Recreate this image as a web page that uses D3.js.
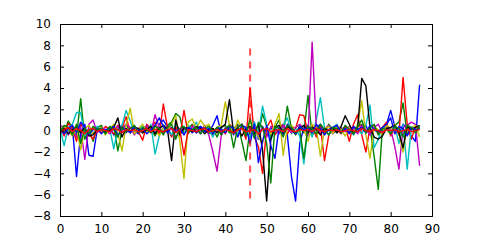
<!DOCTYPE html>
<html lang="en">
<head>
    <meta charset="UTF-8">
    <title>Series</title>
    <style>
        body, html { margin: 0; padding: 0; background: #fff; overflow: hidden; }
        text { font-family: "DejaVu Sans", sans-serif; font-size: 12px; fill: #000; }
        .line { fill: none; stroke-width: 1.4px; stroke-linejoin: round; }
    </style>
</head>
<body>
    <script src="https://d3js.org/d3.v7.min.js"></script>
    <script>
        const width = 480, height = 240;
        const margin = { top: 24, right: 48, bottom: 24, left: 60 };

        const xTicks = [0, 10, 20, 30, 40, 50, 60, 70, 80, 90];
        const yTicks = [-8, -6, -4, -2, 0, 2, 4, 6, 8, 10];
        const colors = ["#0000ff", "#008000", "#ff0000", "#00bfbf", "#bf00bf", "#bfbf00", "#000000", "#0000ff", "#008000", "#ff0000"];
        const markerX = 46;
        const markerY = [7.7, -6.7];

        // each series: values at x = 0 .. 87
        const s0 = [-0.3, 0.2, -0.1, 0.4, -4.3, -0.2, 0.6, -2.3, -2.4, 0.1,
            0.2, -0.1, 0.3, -0.4, 0.1, 0.5, -0.2, 0.3, 0.0, -0.3,
            0.2, -0.1, 0.4, -0.3, 0.6, 1.0, 0.3, -0.5, 0.2, -0.2,
            0.1, 0.3, -0.2, 0.2, 0.4, -0.1, 0.0, 0.5, 1.4, -0.3,
            0.2, 0.1, -0.4, 0.3, 0.6, -0.2, -0.6, 0.8, -0.8, 0.4,
            -0.5, 0.3, -0.3, 0.2, 0.6, -0.4, -4.3, -6.6, -1.2, 0.3,
            0.5, -0.3, 0.2, 0.6, -0.2, 0.1, -0.3, 0.2, 0.0, 0.4,
            -0.2, 0.3, -0.1, 0.2, 0.5, -0.4, 0.1, -0.2, 0.3, 0.6,
            1.9, 0.4, -0.3, 0.6, 0.2, -0.5, -1.0, 4.3];
        const s1 = [0.4, -0.2, 0.9, 0.3, -0.6, 3.0, -0.8, 0.2, -1.0, 0.3,
            0.5, -0.3, 0.2, 0.4, -1.9, 0.1, 0.6, -0.2, 0.3, 0.1,
            -0.2, 0.4, 0.2, -0.5, 0.3, -0.1, 0.5, 0.8, 1.6, 1.3,
            -0.3, 0.2, 0.6, -0.2, 0.1, 0.4, -0.3, 0.2, -0.6, 0.3,
            0.5, -0.2, 0.2, 0.6, -1.0, -2.8, 0.3, 0.5, -0.4, 1.6,
            0.4, -0.6, 0.3, 1.0, -0.3, 2.3, 0.2, -0.4, 0.5, -0.2,
            3.3, -0.5, 0.4, 0.2, -0.3, 0.6, 0.1, -0.2, 0.3, 0.0,
            0.2, -0.3, 0.4, 0.6, -0.2, 0.3, -2.4, -5.5, 0.2, 0.4,
            -0.3, 0.5, 0.8, 2.6, -0.4, 0.3, -0.1, 0.2];
        const s2 = [0.3, -0.5, 0.7, 0.2, -1.0, 0.6, 0.1, -0.3, -0.8, 0.2,
            -0.2, 0.4, 0.1, -0.3, 0.5, 0.2, 1.3, -0.2, 0.4, -0.1,
            -0.9, 0.6, 0.2, 0.8, -0.4, 2.5, 0.3, -0.6, 0.4, -0.5,
            1.9, -0.3, 0.5, 0.2, -0.2, 0.4, 0.1, -0.4, 0.3, 0.2,
            -0.3, 0.6, 0.2, -0.5, 0.3, -0.8, 4.0, -0.6, -1.5, -4.0,
            0.3, 1.0, -0.4, 0.2, 0.6, -0.3, 0.4, 0.2, 1.5, 1.4,
            -0.2, 0.5, -0.6, 0.4, -2.8, -0.5, 0.3, 0.1, -0.3, 0.4,
            -1.0, 0.6, 1.5, -0.4, -2.0, 0.3, 0.5, -0.2, 0.3, 0.8,
            -0.5, 0.3, -0.4, 5.0, 0.6, -0.8, 0.4, 0.2];
        const s3 = [0.2, -1.4, 0.3, 0.6, 1.7, 1.7, -0.5, 0.2, -0.3, 0.4,
            0.1, -0.2, 0.3, -1.7, 0.2, 0.5, 1.9, 0.9, -0.3, 0.2,
            0.4, -0.1, 0.6, -2.2, -0.5, 0.3, 0.2, -0.4, 0.6, 0.1,
            -0.3, 0.5, 0.2, 0.8, -0.2, 0.4, 0.1, -0.6, 0.3, 0.2,
            -0.1, 0.4, 0.3, -0.4, 0.5, 0.2, -0.6, 0.8, -0.3, 2.3,
            0.6, -0.9, 0.4, -0.2, 0.5, 1.2, -0.3, 0.2, -0.5, -3.1,
            0.4, -0.6, 1.0, 3.1, 0.2, -0.4, 0.3, 0.6, -0.2, 0.1,
            0.3, -0.4, 0.2, -0.3, 0.5, 2.4, -1.6, -0.8, 0.3, 0.5,
            -0.2, 0.4, -1.2, 0.6, -3.6, 0.3, -0.2, 0.4];
        const s4 = [0.5, 0.3, -0.4, 0.2, -0.6, 0.4, -2.7, 0.6, 1.0, -0.2,
            0.3, 0.1, -0.3, 0.2, 0.4, -0.1, 0.6, 0.3, -0.4, 0.2,
            0.1, 0.5, -0.2, 1.5, 0.3, -0.3, 0.4, 0.2, -0.6, 0.1,
            0.3, -0.2, 0.4, 0.1, -0.3, 0.5, -0.4, -2.0, -3.8, -0.5,
            0.3, 0.2, -0.2, 0.4, 0.6, -0.3, 0.2, 0.5, -0.4, 0.3,
            -0.6, 0.4, 0.2, -0.3, 0.5, 0.1, -0.2, 0.3, 0.6, 0.2,
            -0.5, 8.3, 0.4, -0.3, 0.2, 0.5, -0.2, 0.1, 0.3, -0.1,
            0.4, 0.2, -0.3, 0.5, 0.1, -0.4, 0.3, 0.6, -0.2, 0.4,
            0.2, -1.5, -3.6, 0.3, 0.5, 0.8, 0.6, -3.3];
        const s5 = [-0.2, 0.4, 0.1, -0.5, 0.3, -1.8, 0.2, 0.5, -0.3, 0.1,
            0.3, -0.4, 0.2, 0.6, -0.2, -1.9, 0.5, 2.1, -0.3, 0.2,
            0.6, -0.1, 0.4, 0.2, -0.5, 0.3, 0.1, 0.6, 1.4, -1.0,
            -4.5, 0.8, 1.1, 0.2, 1.0, 0.4, 0.6, -0.2, 0.3, 0.5,
            2.7, 0.5, -0.3, 1.0, 0.2, -0.4, 0.8, 0.3, -0.6, -1.2,
            0.4, -0.3, 0.6, 1.6, -2.3, 0.3, 0.5, -0.2, 0.4, 0.2,
            -1.0, 0.6, 0.3, -2.4, 0.2, 0.4, -0.3, 0.5, 0.1, -0.5,
            0.3, -0.2, 0.6, 2.8, -0.4, -2.6, 0.3, 0.1, -0.4, 0.5,
            0.2, 0.6, -0.3, -2.0, 0.4, 0.2, 0.5, -0.6];
        const s6 = [-0.1, 0.2, -0.3, 0.1, 0.4, -0.2, 0.3, -0.5, -0.4, 0.1,
            0.2, -0.1, 0.0, 0.3, 1.2, -0.6, 0.2, -0.1, 0.3, 0.2,
            -0.2, 0.1, 0.4, -0.3, 0.2, 0.5, 0.1, -2.8, 1.0, -0.4,
            0.3, 0.2, -0.1, 0.4, 0.2, -0.3, 0.1, 0.2, -0.2, 0.3,
            0.6, 2.9, -0.2, 0.3, -0.5, 0.2, 0.4, -0.3, 0.6, -1.8,
            -6.6, -0.8, 0.3, 0.5, -0.2, 0.4, 0.1, -0.3, 0.2, 0.5,
            -0.2, 0.3, 0.1, -0.4, 0.2, 0.0, 0.3, -0.2, 0.4, 1.4,
            0.6, -0.3, 0.2, 4.9, 4.2, 0.3, -0.6, -0.8, -0.5, 0.2,
            0.3, 0.5, -0.2, -1.6, 0.4, 0.1, 0.3, 0.5];
        const s7 = [0.1, -0.3, 0.2, 0.5, -0.2, 0.8, 0.3, -0.4, 0.1, 0.2,
            -0.3, 0.1, 0.2, 0.4, -0.5, 0.3, 0.1, -0.2, 0.4, 0.0,
            0.2, -0.3, 0.1, 0.5, 1.2, 0.4, -0.2, 0.3, -0.1, 0.2,
            -0.4, 0.3, 0.1, -0.2, 0.4, 0.0, 0.2, -0.3, 0.3, 0.1,
            -0.2, 0.4, 0.2, -0.6, 0.5, 0.3, -1.2, 0.6, -3.0, -1.0,
            0.5, -1.4, -2.6, 0.3, -0.4, 0.6, 0.2, -0.3, 0.4, 0.1,
            0.3, -0.2, 0.6, 0.2, -0.4, 0.1, 0.3, 0.5, -0.2, 0.2,
            -0.3, 0.4, 0.1, 0.3, -0.2, 0.5, 0.2, -0.1, 0.3, 0.6,
            1.2, -0.3, 0.4, 0.2, -0.5, 0.3, 0.1, 0.2];
        const s8 = [-0.2, 0.5, 0.3, -0.4, 0.6, -1.2, 0.2, -0.3, 0.4, 0.1,
            0.2, -0.3, 0.4, 0.1, -0.6, 0.3, -0.1, 0.2, 0.5, -0.2,
            0.3, 0.1, -0.2, 0.4, 0.2, -0.4, 0.3, 0.6, -0.8, 0.2,
            0.4, -0.2, 0.1, 0.3, -0.3, 0.2, 0.4, -0.1, 0.3, -0.4,
            0.2, 0.5, -1.6, 0.3, 0.6, -0.5, 1.2, -0.7, 0.8, 0.3,
            -1.2, -4.9, 0.4, 0.2, -0.6, 0.5, 0.3, -0.2, 0.1, -2.6,
            0.4, 0.2, -0.3, 0.6, 0.1, -0.4, 0.3, 0.2, -0.2, 0.5,
            0.1, -0.3, 0.4, 1.0, -0.2, 0.3, 0.6, -0.4, 0.2, 0.1,
            -0.3, 0.4, 0.2, -0.6, 0.5, 0.3, -0.2, 0.4];
        const s9 = [-0.2, 0.1, 0.3, -0.1, 0.2, 0.0, -0.3, 0.1, 0.2, -0.1,
            0.1, 0.0, -0.1, 0.2, 0.1, -0.2, 0.1, 0.0, 0.1, -0.1,
            0.0, 0.2, -0.1, 0.1, 0.0, -0.1, 0.1, 0.2, -0.2, 0.1,
            -2.3, 0.1, 0.0, -0.1, 0.1, 0.2, -0.1, 0.0, 0.1, -0.1,
            0.1, 0.0, -0.2, 0.1, 0.2, -0.1, 0.0, 0.1, -0.3, 0.1,
            0.2, -0.1, 0.0, 0.1, -0.1, 0.2, 0.0, -0.1, 0.1, 0.0,
            0.1, -0.1, 0.2, 0.0, -0.1, 0.1, 0.0, 0.1, -0.1, 0.0,
            0.1, 0.0, -0.1, 0.2, 0.0, -0.1, 0.1, 0.0, -0.2, 0.1,
            0.0, 0.1, -0.1, 0.0, 0.1, -0.1, 0.0, 0.1];
        const series = [s0, s1, s2, s3, s4, s5, s6, s7, s8, s9];

        const svg = d3.select("body").append("svg")
            .attr("width", width)
            .attr("height", height);

        const x = d3.scaleLinear().domain([0, 90]).range([margin.left, width - margin.right]);
        const y = d3.scaleLinear().domain([-8, 10]).range([height - margin.bottom, margin.top]);

        svg.append("defs").append("clipPath").attr("id", "clip")
            .append("rect")
            .attr("x", margin.left).attr("y", margin.top)
            .attr("width", x(90) - x(0)).attr("height", y(-8) - y(10));

        const line = d3.line().x((d, i) => x(i)).y(d => y(d));

        const plot = svg.append("g").attr("clip-path", "url(#clip)");
        plot.selectAll(".line")
            .data(series)
            .enter().append("path")
            .attr("class", "line")
            .attr("stroke", (d, i) => colors[i])
            .attr("d", line);

        // dashed marker
        plot.append("line")
            .attr("x1", x(markerX)).attr("x2", x(markerX))
            .attr("y1", y(markerY[0])).attr("y2", y(markerY[1]))
            .attr("stroke", "#ff0000")
            .attr("stroke-opacity", 0.7)
            .attr("stroke-width", 2)
            .attr("stroke-dasharray", "7,6");

        const fmt = d => d < 0 ? "\u2212" + Math.abs(d) : String(d);
        const tickLen = 4;

        // axes: ticks pointing inward on all four sides
        const xBottom = d3.axisBottom(x).tickValues(xTicks).tickSize(-tickLen).tickPadding(8).tickFormat(fmt);
        const xTop = d3.axisTop(x).tickValues(xTicks).tickSize(-tickLen).tickFormat("");
        const yLeft = d3.axisLeft(y).tickValues(yTicks).tickSize(-tickLen).tickPadding(9).tickFormat(fmt);
        const yRight = d3.axisRight(y).tickValues(yTicks).tickSize(-tickLen).tickFormat("");

        const gb = svg.append("g").attr("transform", `translate(0,${y(-8)})`).call(xBottom);
        const gt = svg.append("g").attr("transform", `translate(0,${y(10)})`).call(xTop);
        const gl = svg.append("g").attr("transform", `translate(${x(0)},0)`).call(yLeft);
        const gr = svg.append("g").attr("transform", `translate(${x(90)},0)`).call(yRight);

        [gb, gt, gl, gr].forEach(g => {
            g.select(".domain").attr("stroke", "#000").attr("stroke-width", 1);
            g.selectAll(".tick line").attr("stroke", "#000");
            g.selectAll("text").attr("font-size", 12).attr("font-family", "DejaVu Sans").attr("fill", "#000");
        });
    </script>
</body>
</html>
